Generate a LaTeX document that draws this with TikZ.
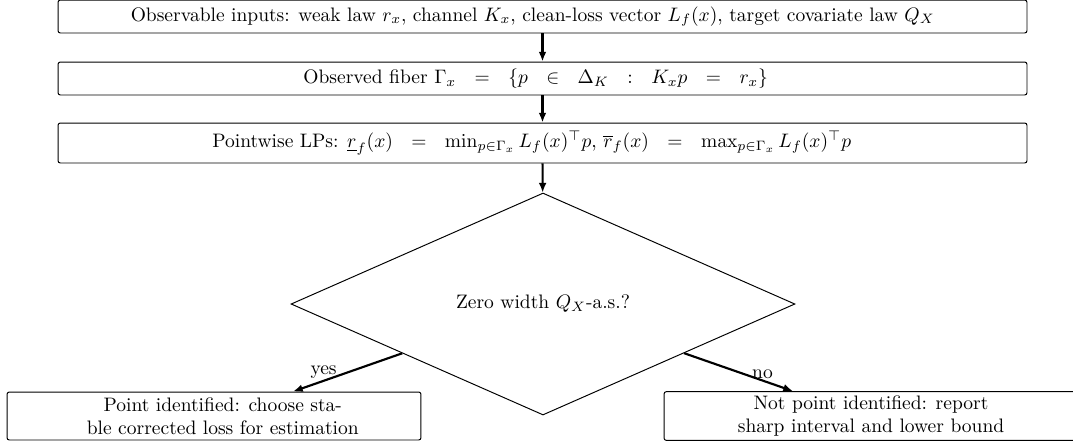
\documentclass[tikz,border=0pt]{standalone}
\usepackage{amsmath,amssymb}
\usetikzlibrary{shapes.geometric,arrows.meta,calc}
\begin{document}
\begin{tikzpicture}[x=0.5126pt,y=-0.5126pt,
  box/.style={draw,rounded corners=1.2pt,line width=0.5pt,minimum width=496.7pt,minimum height=16.9pt,inner sep=2pt,align=center},
  outbox/.style={draw,rounded corners=1.2pt,line width=0.5pt,minimum width=212.2pt,minimum height=24.6pt,inner sep=2pt,align=center},
  dec/.style={draw,diamond,aspect=2.27,minimum width=258.3pt,minimum height=113.8pt,inner sep=0pt,line width=0.5pt},
  arr/.style={-{Latex[length=5pt,width=4pt]},line width=1.1pt},
  lab/.style={inner sep=0.5pt}
]
\useasboundingbox (0,0) rectangle (1073,444);
\node[box] (in) at (542.5,16.5) {Observable inputs: weak law $r_x$, channel $K_x$, clean-loss vector $L_f(x)$, target covariate law $Q_X$\hspace*{10pt}};
\node[box] (fib) at (542.5,78.5) {\thickmuskip=17mu Observed fiber $\Gamma_x = \{p \in \Delta_K : K_x p = r_x\}$\hspace*{7pt}};
\node[box,minimum height=20.5pt] (lp) at (542.5,143) {\thickmuskip=17mu Pointwise LPs: $\underline{r}_f(x) = \min_{p\in\Gamma_x} L_f(x)^\top p$, $\overline{r}_f(x) = \max_{p\in\Gamma_x} L_f(x)^\top p$\hspace*{11pt}};
\node[dec] (d) at (543,304) {Zero width $Q_X$-a.s.?};
\node[outbox] (yes) at (214,416) {\hspace*{9pt}Point identified: choose sta-\\\hspace*{9pt}ble corrected loss for estimation};
\node[outbox] (no) at (871,416) {Not point identified: report\\sharp interval and lower bound};
\coordinate (yesend) at ($(yes.north)+(79,0)$);
\coordinate (noend) at ($(no.north)+(-78,0)$);
\draw[arr] (in) -- (fib);
\draw[arr] (fib) -- (lp);
\draw[arr] (lp) -- (d);
\draw[arr] (d) -- node[lab,pos=0.72,above] {yes} (yesend);
\draw[arr] (d) -- node[lab,pos=0.72,above] {no} (noend);
\end{tikzpicture}
\end{document}
